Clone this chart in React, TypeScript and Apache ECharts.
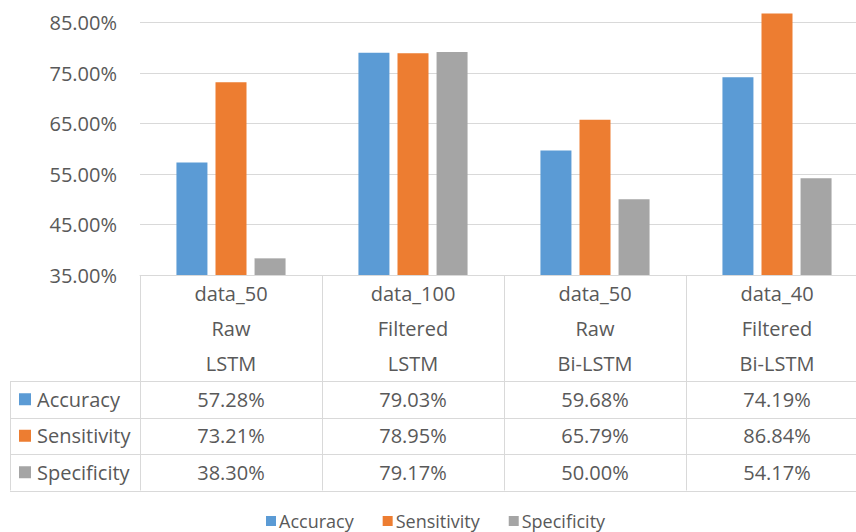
import React, { useEffect, useRef } from "react";
import * as echarts from "echarts";

const datasets = ["data_50", "data_100", "data_50", "data_40"];
const processing = ["Raw", "Filtered", "Raw", "Filtered"];
const models = ["LSTM", "LSTM", "Bi-LSTM", "Bi-LSTM"];

const seriesNames = ["Accuracy", "Sensitivity", "Specificity"];
const accuracy = [57.28, 79.03, 59.68, 74.19];
const sensitivity = [73.21, 78.95, 65.79, 86.84];
const specificity = [38.3, 79.17, 50.0, 54.17];
const colors = ["#5b9bd5", "#ed7d31", "#a5a5a5"];

const FONT = "Open Sans";
const TEXT = "#595959";
const LINE = "#d9d9d9";

export default function App() {
  const ref = useRef<HTMLDivElement>(null);
  useEffect(() => {
    if (!ref.current) return;
    const chart = echarts.init(ref.current, undefined, { renderer: "svg" });
    const values = [accuracy, sensitivity, specificity];
    const categories = datasets.map((d, i) => `${d}\n${processing[i]}\n${models[i]}`);

    const axisBottom = 275;
    const rowTops = [381, 417.5, 454];
    const rowH = 36.5;
    const tableBottom = 490.5;

    const rowAxes = values.map((vals, i) => ({
      type: "category",
      gridIndex: 0,
      position: "bottom",
      offset: rowTops[i] - axisBottom,
      data: vals.map((v) => v.toFixed(2) + "%"),
      axisLine: { show: false },
      axisTick: { show: false },
      splitLine: { show: false },
      axisLabel: {
        interval: 0,
        margin: 0,
        lineHeight: rowH,
        fontSize: 20,
        fontFamily: FONT,
        color: TEXT,
      },
    }));

    const graphics: any[] = [];
    [...rowTops, tableBottom].forEach((y) => {
      graphics.push({
        type: "line",
        shape: { x1: 10, y1: Math.round(y) + 0.5, x2: 856, y2: Math.round(y) + 0.5 },
        style: { stroke: LINE, lineWidth: 1 },
      });
    });
    graphics.push({
      type: "line",
      shape: { x1: 10.5, y1: rowTops[0], x2: 10.5, y2: tableBottom },
      style: { stroke: LINE, lineWidth: 1 },
    });
    seriesNames.forEach((name, i) => {
      const cy = rowTops[i] + rowH / 2;
      graphics.push({
        type: "rect",
        shape: { x: 19, y: cy - 6, width: 12, height: 12 },
        style: { fill: colors[i] },
      });
      graphics.push({
        type: "text",
        x: 37,
        y: cy,
        style: {
          text: name,
          fontSize: 20,
          fontFamily: FONT,
          fill: TEXT,
          verticalAlign: "middle",
          align: "left",
        },
      });
    });

    chart.setOption({
      animation: false,
      grid: {
        left: 140,
        width: 728,
        top: 0,
        height: axisBottom,
        containLabel: false,
        outerBoundsMode: "none",
      },
      legend: {
        left: 266,
        top: 512,
        padding: 0,
        icon: "rect",
        itemWidth: 10,
        itemHeight: 10,
        itemGap: 29,
        textStyle: { fontSize: 18, fontFamily: FONT, color: TEXT, padding: [0, 0, 0, -2] },
        data: seriesNames,
      },
      xAxis: [
        {
          type: "category",
          data: categories,
          axisLine: { show: true, lineStyle: { color: LINE, width: 1 } },
          axisTick: {
            show: true,
            interval: 0,
            length: tableBottom - axisBottom,
            inside: false,
            lineStyle: { color: LINE, width: 1 },
          },
          axisLabel: {
            interval: 0,
            margin: 1,
            lineHeight: 35,
            fontSize: 20,
            fontFamily: FONT,
            color: TEXT,
          },
        },
        ...rowAxes,
      ],
      yAxis: {
        type: "value",
        min: 35,
        max: 89.5,
        interval: 10,
        axisLine: { show: false },
        axisTick: { show: false },
        splitLine: { show: true, showMaxLine: false, lineStyle: { color: LINE, width: 1 } },
        axisLabel: {
          margin: 23,
          showMaxLabel: false,
          fontSize: 20,
          fontFamily: FONT,
          color: TEXT,
          formatter: (v: number) => v.toFixed(2) + "%",
        },
      },
      series: values.map((vals, i) => ({
        name: seriesNames[i],
        type: "bar",
        xAxisIndex: 0,
        data: vals,
        barWidth: 31,
        barGap: "26%",
        itemStyle: { color: colors[i] },
      })),
      graphic: graphics,
    });
    return () => chart.dispose();
  }, []);
  return (
    <div
      ref={ref}
      style={{ position: "fixed", left: 0, top: 0, width: 856, height: 532, background: "#fff" }}
    />
  );
}
